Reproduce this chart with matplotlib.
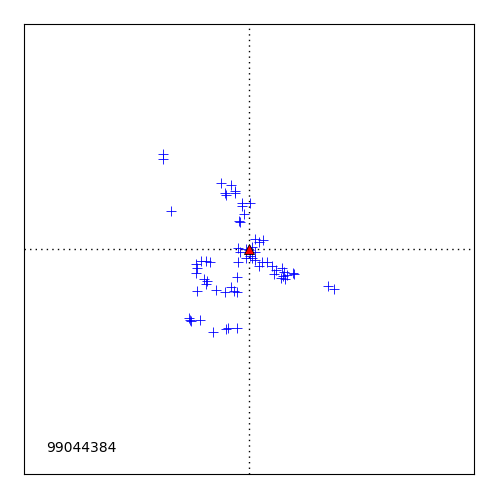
import matplotlib
matplotlib.use("Agg")
import matplotlib.pyplot as plt

# scatter of offsets (axes run -1..1)
xs = [-0.382, -0.382, -0.347, -0.124, -0.080, -0.062, -0.107, -0.102, -0.062,
      -0.031, -0.031, 0.004, -0.022, -0.044, -0.040, 0.027, 0.044, 0.062,
      -0.049, -0.040, -0.013, 0.000, 0.013, 0.027, 0.004, -0.013, 0.013, 0.027, -0.049,
      0.058, 0.080, 0.044, 0.102, 0.120, 0.111, 0.147, 0.156, 0.151, 0.160, 0.142,
      0.169, 0.196, 0.200, 0.351, 0.378,
      -0.236, -0.231, -0.236, -0.213, -0.191, -0.173, -0.200, -0.187, -0.191,
      -0.231, -0.147, -0.107, -0.080, -0.067, -0.053, -0.053,
      -0.267, -0.262, -0.258, -0.218, -0.160, -0.102, -0.093, -0.053]
ys = [0.422, 0.400, 0.169, 0.293, 0.284, 0.258, 0.249, 0.240, 0.249,
      0.204, 0.191, 0.204, 0.156, 0.124, 0.120, 0.044, 0.031, 0.040,
      0.004, -0.013, 0.000, -0.004, 0.009, -0.013, -0.031, -0.040, -0.040, -0.049, -0.058,
      -0.058, -0.058, -0.076, -0.076, -0.093, -0.111, -0.084, -0.102, -0.120, -0.133, -0.129,
      -0.116, -0.107, -0.111, -0.164, -0.178,
      -0.067, -0.084, -0.107, -0.053, -0.053, -0.058, -0.133, -0.142, -0.156,
      -0.187, -0.182, -0.191, -0.169, -0.187, -0.191, -0.124,
      -0.307, -0.316, -0.320, -0.316, -0.369, -0.356, -0.351, -0.351]
ref_x = [0.0]
ref_y = [0.0]
label = "99044384"

fig = plt.figure(figsize=(5, 5), dpi=100)
ax = fig.add_axes([0.048, 0.052, 0.9, 0.9])

ax.axhline(0, color="black", ls=(0, (1, 3)), lw=1)
ax.axvline(0, color="black", ls=(0, (1, 3)), lw=1)
ax.plot(xs, ys, "+", color="blue", ms=7, mew=0.6, ls="none")
ax.plot(ref_x, ref_y, "^", color="red", mec="black", mew=0.6, ms=7, ls="none", zorder=5)

ax.text(-0.9, -0.885, label, fontsize=10, va="center", ha="left")

ax.set_xlim(-1, 1)
ax.set_ylim(-1, 1)
ax.set_xticks([])
ax.set_yticks([])

fig.savefig("out.png", dpi=100)
